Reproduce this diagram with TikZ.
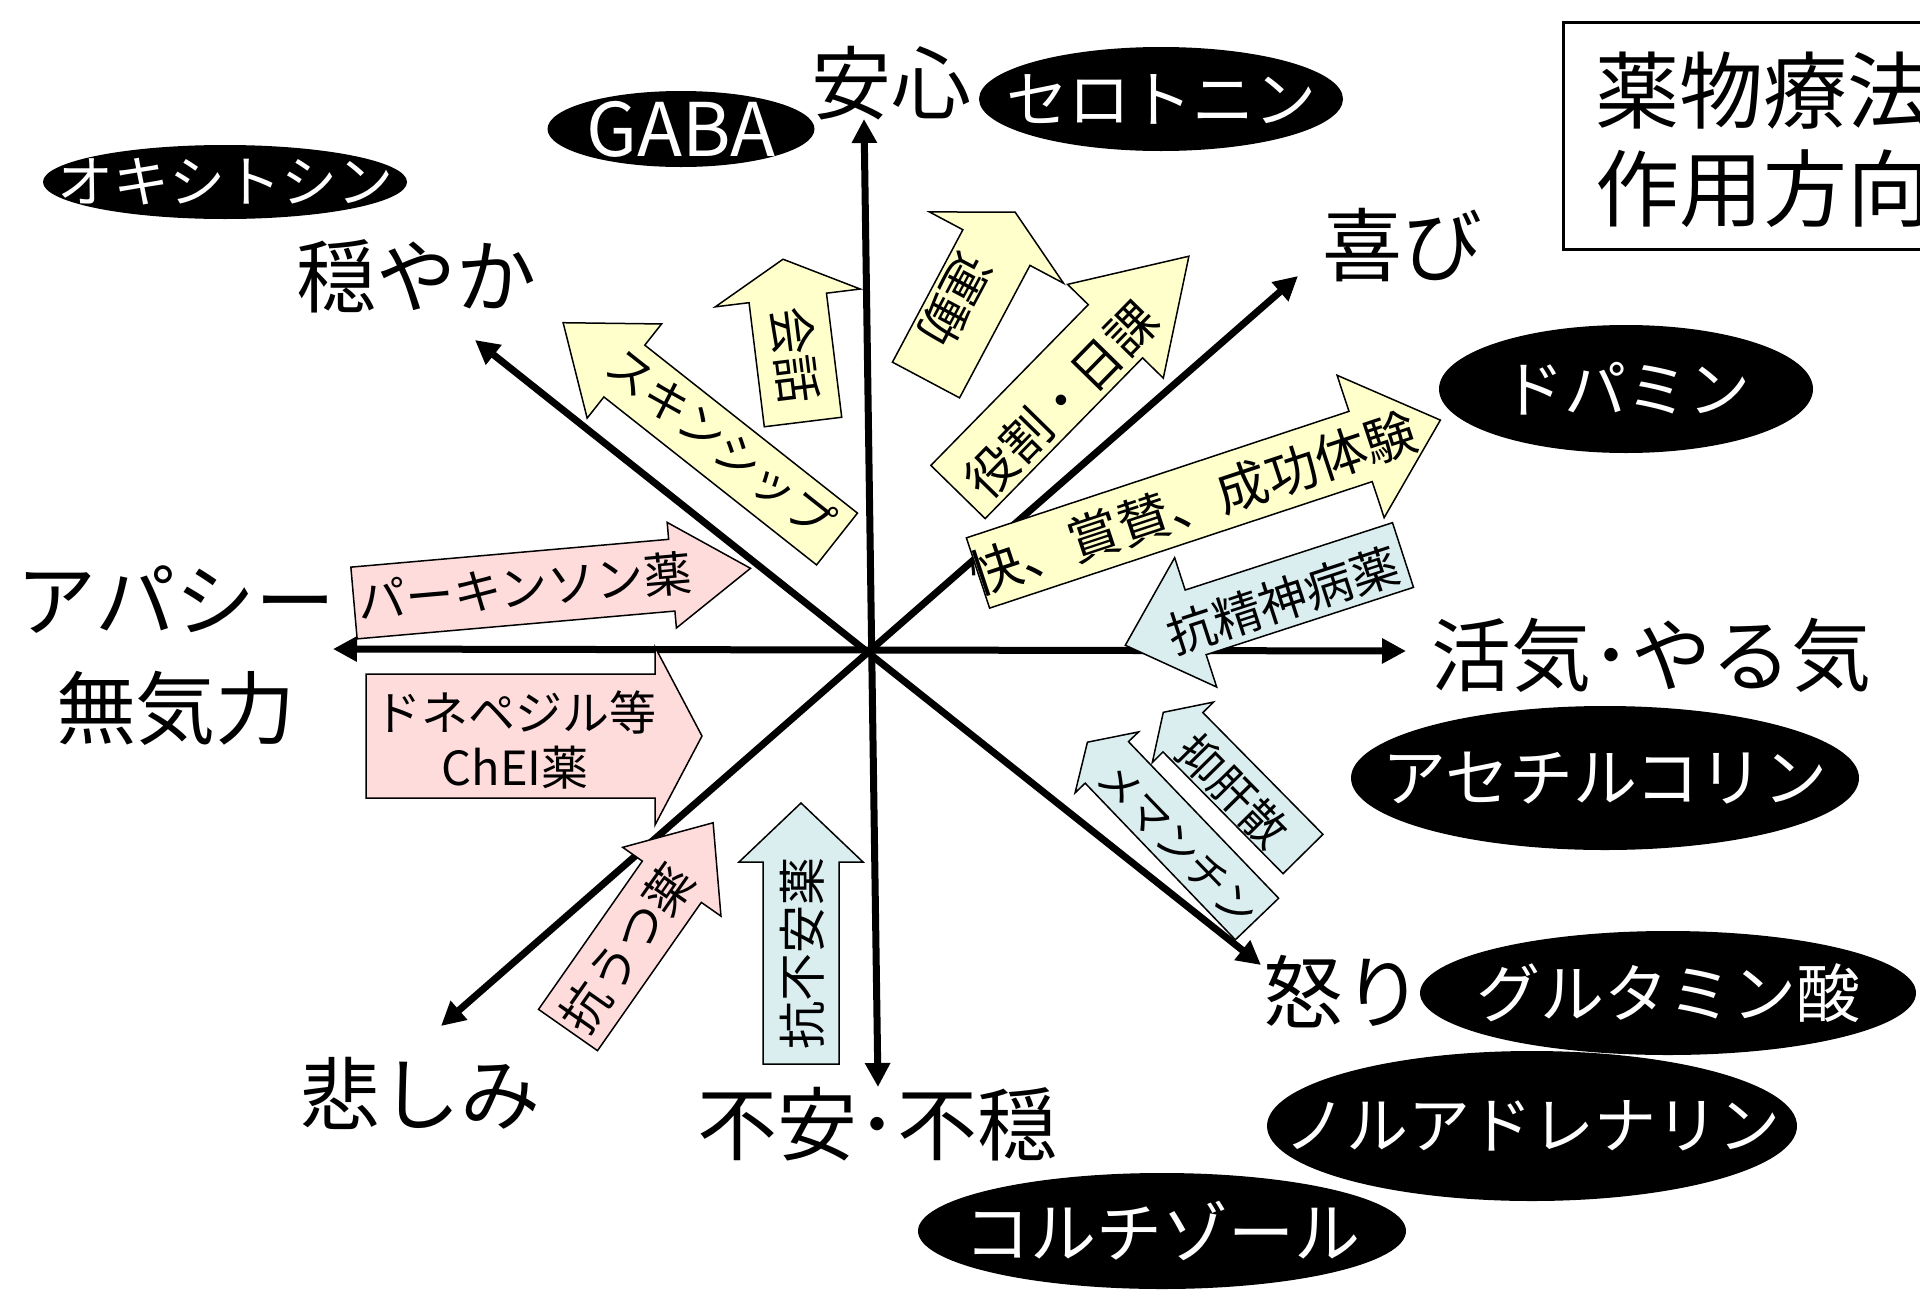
\documentclass[tikz,border=0pt]{standalone}
\usepackage{fontspec}
\setmainfont{Noto Sans CJK JP}
\usetikzlibrary{shapes.geometric,arrows.meta}
\definecolor{yfill}{HTML}{FFFFCC}
\definecolor{pfill}{HTML}{FFDCDC}
\definecolor{bfill}{HTML}{DAEEF0}
% #1 name, #2 tail centre, #3 angle, #4 length, #5 shaft half width, #6 head half width, #7 head length, #8 style
\newcommand\blockarrow[8]{%
  \begin{scope}[shift={#2}, rotate=#3]
    \draw[#8] (0,#5) -- ({#4-#7},#5) -- ({#4-#7},#6) -- (#4,0) -- ({#4-#7},-#6) -- ({#4-#7},-#5) -- (0,-#5) -- cycle;
    \coordinate (#1) at (0,0);
  \end{scope}}
\begin{document}
\begin{tikzpicture}[x=1pt,y=-1pt,
  lbl/.style={font=\fontsize{80}{84}\selectfont, inner sep=0},
  ntshape/.style={ellipse, fill=black, inner sep=0},
  nttext/.style={text=white, inner sep=0, font=\fontsize{62}{66}\selectfont},
  axisline/.style={line width=7pt, {Triangle[length=24pt,width=24pt]}-{Triangle[length=24pt,width=24pt]}},
  yarrow/.style={draw=black, line width=1.5pt, fill=yfill, line join=miter},
  parrow/.style={draw=black, line width=1.5pt, fill=pfill, line join=miter},
  barrow/.style={draw=black, line width=1.5pt, fill=bfill, line join=miter},
  atext/.style={font=\fontsize{48}{52}\selectfont, inner sep=0},
  boxtext/.style={font=\fontsize{84}{90}\selectfont, inner sep=0, anchor=west}
]
\useasboundingbox (0,0) rectangle (1920,1296);
\fill[white] (0,0) rectangle (1920,1296);

% title box (cut by the right edge)
\begin{scope}
  \clip (0,0) rectangle (1920,1296);
  \draw[line width=3pt] (1563,22) rectangle (1990,249);
  \node[boxtext] (title1) at (1595,91) {薬物療法};
  \node[boxtext] (title2) at (1595,189) {作用方向};
\end{scope}

% axes
\coordinate (vT) at (864,119);
\coordinate (vB) at (878,1087);
\coordinate (hL) at (333,649);
\coordinate (hR) at (1406,651);
\coordinate (dSW) at (441,1026);
\coordinate (dNE) at (1298,276);
\coordinate (dNW) at (475,340);
\coordinate (dSE) at (1261,965);
\draw[axisline] (vT) -- (vB);
\draw[axisline] (hL) -- (hR);
\draw[axisline] (dSW) -- (dNE);
\draw[axisline] (dNW) -- (dSE);

% axis labels
\node[lbl] (anshin) at (891,83) {安心};
\node[lbl] (yorokobi) at (1402,245) {喜び};
\node[lbl] (odayaka) at (416,276) {穏やか};
\node[lbl] (apathy) at (176,600) {アパシー};
\node[lbl] (mukiryoku) at (176,708) {無気力};
\node[lbl] (kakki) at (1651,655) {活気･やる気};
\node[lbl] (ikari) at (1343,992) {怒り};
\node[lbl] (kanashimi) at (420,1093) {悲しみ};
\node[lbl] (fuan) at (877,1124) {不安･不穏};

% neurotransmitters
\node[ntshape, minimum width=364, minimum height=74] (oxy) at (225,182) {};
\node[nttext, font=\fontsize{56}{60}\selectfont] (oxyT) at (oxy) {オキシトシン};
\node[ntshape, minimum width=267, minimum height=76] (gaba) at (681,129) {};
\node[nttext, font=\fontsize{74}{78}\selectfont] (gabaT) at (gaba) {GABA};
\node[ntshape, minimum width=364, minimum height=104] (sero) at (1161,99) {};
\node[nttext] (seroT) at (sero) {セロトニン};
\node[ntshape, minimum width=374, minimum height=128] (dopa) at (1626,389) {};
\node[nttext] (dopaT) at (dopa) {ドパミン};
\node[ntshape, minimum width=508, minimum height=144] (ach) at (1605,778) {};
\node[nttext, font=\fontsize{64}{68}\selectfont] (achT) at (ach) {アセチルコリン};
\node[ntshape, minimum width=496, minimum height=124] (glu) at (1668,993) {};
\node[nttext, font=\fontsize{64}{68}\selectfont] (gluT) at (glu) {グルタミン酸};
\node[ntshape, minimum width=530, minimum height=150] (nor) at (1532,1126) {};
\node[nttext] (norT) at (nor) {ノルアドレナリン};
\node[ntshape, minimum width=488, minimum height=116] (cort) at (1162,1231) {};
\node[nttext, font=\fontsize{66}{70}\selectfont] (cortT) at (cort) {コルチゾール};

% block arrows
\blockarrow{a1}{(354,603)}{5}{398}{36}{53}{79}{parrow}
\node[atext, rotate=5] (t1) at (525,587) {パーキンソン薬};
\blockarrow{a2}{(366,736)}{0}{336}{62}{89}{47}{parrow}
\node[atext, align=center, font=\fontsize{47}{55}\selectfont] (t2) at (515,740) {ドネペジル等\\ChEI薬};
\blockarrow{a3}{(568,1030)}{55}{253}{36}{60}{72}{parrow}
\node[atext, rotate=55] (t3) at (627,948) {抗うつ薬};
\blockarrow{a4}{(801,1064)}{90}{261}{38}{62}{59}{barrow}
\node[atext, rotate=90] (t4) at (802,953) {抗不安薬};
\blockarrow{a5}{(1403,555)}{198}{292}{34}{68}{74}{barrow}
\node[atext, rotate=18] (t5) at (1283,600) {抗精神病薬};
\blockarrow{a6}{(1303,854)}{134.6}{199}{28}{43}{28}{barrow}
\node[atext, rotate=-45.4, font=\fontsize{45}{48}\selectfont] (t6) at (1233,791) {抑肝散};
\blockarrow{a7}{(1257,919)}{133.8}{245}{30}{44}{28}{barrow}
\node[atext, rotate=-46, font=\fontsize{42}{46}\selectfont] (t7) at (1178,845) {メマンチン};
\blockarrow{a8}{(978,573)}{18.3}{487}{37}{75}{84}{yarrow}
\node[atext, rotate=18.3, font=\fontsize{52}{56}\selectfont] (t8) at (1193,503) {快、賞賛、成功体験};
\blockarrow{a10}{(926,380)}{62}{190}{38}{76}{40}{yarrow}
\node[atext, rotate=242] (t10) at (955,300) {運動};
\blockarrow{a9}{(958,492)}{45.6}{330}{38}{67}{105}{yarrow}
\node[atext, rotate=45.6, font=\fontsize{50}{54}\selectfont] (t9) at (1061,400) {役割・日課};
\blockarrow{a11}{(837,539)}{141.7}{349}{33}{60}{78}{yarrow}
\node[atext, rotate=-38.3, font=\fontsize{46}{50}\selectfont] (t11) at (721,443) {スキンシップ};
\blockarrow{a12}{(803,422)}{97}{164}{39}{73}{39}{yarrow}
\node[atext, rotate=-83] (t12) at (795,355) {会話};
\end{tikzpicture}
\end{document}
